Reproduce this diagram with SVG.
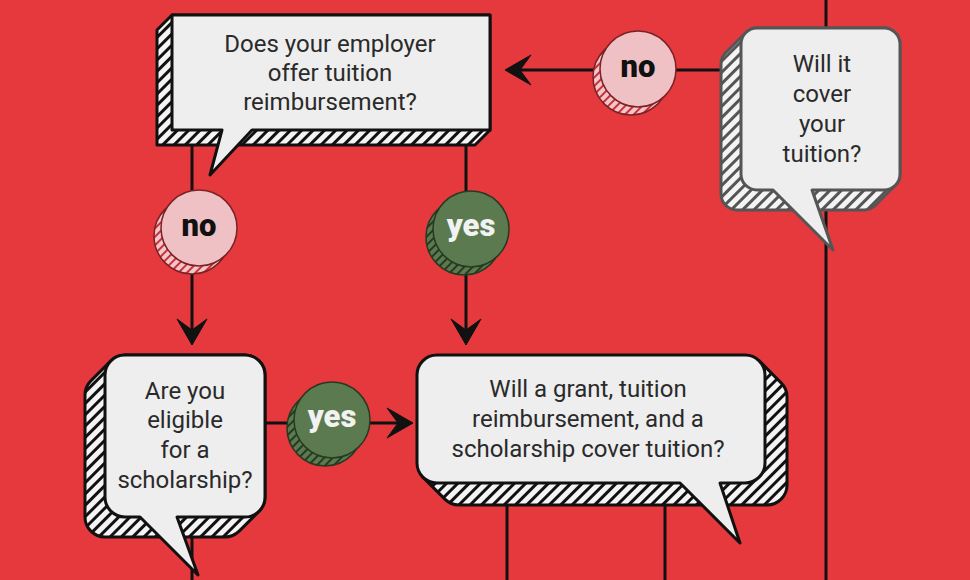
<svg xmlns="http://www.w3.org/2000/svg" width="970" height="580" viewBox="0 0 970 580">
<defs>
<pattern id="hatchK" width="8" height="8" patternUnits="userSpaceOnUse" patternTransform="rotate(45)">
<rect width="8" height="8" fill="#f4f4f4"/><line x1="1.5" y1="0" x2="1.5" y2="8" stroke="#111" stroke-width="3"/>
</pattern>
<pattern id="hatchG" width="8" height="8" patternUnits="userSpaceOnUse" patternTransform="rotate(45)">
<rect width="8" height="8" fill="#f4f4f4"/><line x1="1.5" y1="0" x2="1.5" y2="8" stroke="#555" stroke-width="3"/>
</pattern>
<pattern id="hatchP" width="6" height="6" patternUnits="userSpaceOnUse" patternTransform="rotate(45)">
<rect width="6" height="6" fill="#f3c6ca"/><line x1="1" y1="0" x2="1" y2="6" stroke="#c8323a" stroke-width="2"/>
</pattern>
<pattern id="hatchV" width="6" height="6" patternUnits="userSpaceOnUse" patternTransform="rotate(45)">
<rect width="6" height="6" fill="#5b7a4f"/><line x1="1" y1="0" x2="1" y2="6" stroke="#263a22" stroke-width="2"/>
</pattern>
<marker id="arr" viewBox="-24 -16 32 32" refX="0" refY="0" markerWidth="32" markerHeight="32" markerUnits="userSpaceOnUse" orient="auto">
<path d="M6,0 L-20,-15 L-9,0 L-20,15 Z" fill="#111" stroke="#111" stroke-width="1" stroke-linejoin="round"/>
</marker>
</defs>
<style>
.bg{fill:#e5393d}
.ln{stroke:#111;stroke-width:3;fill:none}
.main{fill:#eeeeee;stroke:#111;stroke-width:3;stroke-linejoin:round}
.ext{fill:url(#hatchK);stroke:#111;stroke-width:3;stroke-linejoin:round}
.mainG{fill:#eeeeee;stroke:#555;stroke-width:3;stroke-linejoin:round}
.extG{fill:url(#hatchG);stroke:#555;stroke-width:3;stroke-linejoin:round}
.q{font-family:Roboto,"Liberation Sans",sans-serif;font-size:24px;fill:#2a2a2a;text-anchor:middle}
.no{fill:#efc1c5;stroke:#7a2226;stroke-width:1.5}
.noS{fill:url(#hatchP);stroke:#7a2226;stroke-width:1.5}
.yes{fill:#5b7a4f;stroke:#263a22;stroke-width:1.5}
.yesS{fill:url(#hatchV);stroke:#263a22;stroke-width:1.5}
.lb{font-family:Roboto,"Liberation Sans",sans-serif;font-size:31px;font-weight:900;text-anchor:middle}
</style>
<rect class="bg" x="0" y="0" width="970" height="580"/>
<g id="connectors">
<line class="ln" x1="826" y1="0" x2="826" y2="580"/>
<line class="ln" x1="741" y1="70" x2="511" y2="70" marker-end="url(#arr)"/>
<line class="ln" x1="192" y1="140" x2="192" y2="339" marker-end="url(#arr)"/>
<line class="ln" x1="466" y1="140" x2="466" y2="339" marker-end="url(#arr)"/>
<line class="ln" x1="265" y1="423" x2="407" y2="423" marker-end="url(#arr)"/>
<line class="ln" x1="192" y1="530" x2="192" y2="580"/>
<line class="ln" x1="507" y1="500" x2="507" y2="580"/>
<line class="ln" x1="665" y1="500" x2="665" y2="580"/>
</g>
<g id="q-employer">
<polygon class="ext" points="172,15 490,15 490,130 475,145 157,145 157,30"/>
<path class="main" d="M172,15 H490 V130 H252 L210,175 L222,130 H172 Z"/>
<text class="q" x="330" y="52">Does your employer</text>
<text class="q" x="330" y="81">offer tuition</text>
<text class="q" x="330" y="110">reimbursement?</text>
</g>
<g id="q-cover">
<path class="extG" d="M745.69,32.69 A16,16 0 0 1 757,28 H884 A16,16 0 0 1 900,44 V174 A16,16 0 0 1 895.31,185.31 L875.31,205.31 A16,16 0 0 1 864,210 H737 A16,16 0 0 1 721,194 V64 A16,16 0 0 1 725.69,52.69 Z"/>
<path class="mainG" d="M757,28 H884 A16,16 0 0 1 900,44 V174 A16,16 0 0 1 884,190 H812 L833,250 L773,190 H757 A16,16 0 0 1 741,174 V44 A16,16 0 0 1 757,28 Z"/>
<text class="q" x="822" y="72">Will it</text>
<text class="q" x="822" y="102">cover</text>
<text class="q" x="822" y="132">your</text>
<text class="q" x="822" y="162">tuition?</text>
</g>
<g id="q-scholarship">
<path class="ext" d="M110.86,360.86 A20,20 0 0 1 125,355 H245 A20,20 0 0 1 265,375 V497 A20,20 0 0 1 259.14,511.14 L239.14,531.14 A20,20 0 0 1 225,537 H105 A20,20 0 0 1 85,517 V395 A20,20 0 0 1 90.86,380.86 Z"/>
<path class="main" d="M125,355 H245 A20,20 0 0 1 265,375 V497 A20,20 0 0 1 245,517 H177 L198,575 L140,517 H125 A20,20 0 0 1 105,497 V375 A20,20 0 0 1 125,355 Z"/>
<text class="q" x="185" y="399">Are you</text>
<text class="q" x="185" y="428">eligible</text>
<text class="q" x="185" y="458">for a</text>
<text class="q" x="185" y="488">scholarship?</text>
</g>
<g id="q-grant">
<path class="ext" d="M759.14,360.86 L781.14,382.86 A20,20 0 0 1 787,397 V485 A20,20 0 0 1 767,505 H459 A20,20 0 0 1 444.86,499.14 L422.86,477.14 Z"/>
<path class="main" d="M437,355 H745 A20,20 0 0 1 765,375 V463 A20,20 0 0 1 745,483 H720 L740,543 L680,483 H437 A20,20 0 0 1 417,463 V375 A20,20 0 0 1 437,355 Z"/>
<text class="q" x="588" y="397">Will a grant, tuition</text>
<text class="q" x="588" y="427">reimbursement, and a</text>
<text class="q" x="588" y="457">scholarship cover tuition?</text>
</g>
<g id="label-no-top">
<circle class="noS" cx="631" cy="77" r="38"/>
<circle class="no" cx="638" cy="69" r="38"/>
<text class="lb" x="638" y="77" fill="#111">no</text>
</g>
<g id="label-no-left">
<circle class="noS" cx="192" cy="236" r="38"/>
<circle class="no" cx="199" cy="228" r="38"/>
<text class="lb" x="199" y="236" fill="#111">no</text>
</g>
<g id="label-yes-mid">
<circle class="yesS" cx="464" cy="237" r="38"/>
<circle class="yes" cx="471" cy="229" r="38"/>
<text class="lb" x="471" y="236" fill="#f2f2f2">yes</text>
</g>
<g id="label-yes-bottom">
<circle class="yesS" cx="325" cy="428" r="38"/>
<circle class="yes" cx="332" cy="420" r="38"/>
<text class="lb" x="332" y="427" fill="#f2f2f2">yes</text>
</g>
</svg>
